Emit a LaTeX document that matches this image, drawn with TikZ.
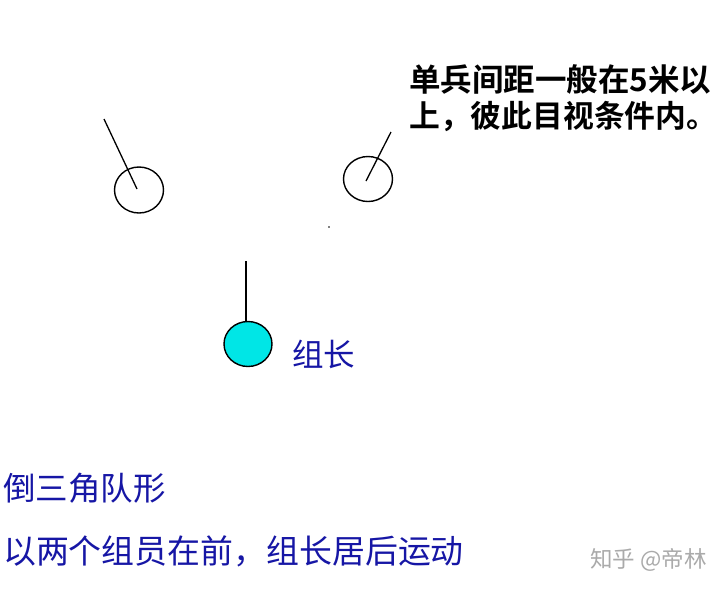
\documentclass[tikz,border=0pt]{standalone}
\usepackage{fontspec}
\newfontfamily\cjk{Noto Sans CJK SC}
\newfontfamily\cjkb{Noto Sans CJK SC}[BoldFont={* Bold}]
\definecolor{txtblue}{RGB}{22,22,165}
\definecolor{ldrcyan}{RGB}{0,230,230}
\definecolor{wm}{RGB}{170,170,170}
\begin{document}
\begin{tikzpicture}[x=1pt,y=-1pt,
  pointer/.style={draw=black,line width=1.3pt},
  bluetxt/.style={text=txtblue,font=\cjk\fontsize{31}{34}\selectfont,inner sep=0pt},
  blacktxt/.style={anchor=west,inner sep=0pt,font=\cjkb\bfseries\fontsize{31.5}{36}\selectfont},
]
\useasboundingbox (0,0) rectangle (720,590);
\fill[white] (0,0) rectangle (720,590);
% members
\draw[line width=1.4pt] (139,190) ellipse (24.5 and 23);
\coordinate (lc) at (137,189);
\coordinate (lt) at (104,119);
\draw[pointer] (lt) -- (lc);
\draw[line width=1.4pt] (368,179) ellipse (24.5 and 22.5);
\coordinate (rc) at (366,181);
\coordinate (rt) at (391,132);
\draw[pointer] (rt) -- (rc);
\fill[black] (329,227) circle (0.8);
% leader
\draw[line width=1.4pt, fill=ldrcyan] (248,344) ellipse (24 and 22.5);
\coordinate (lead) at (246,322);
\coordinate (leadt) at (246,261);
\draw[pointer] (leadt) -- (lead);
\node[bluetxt,anchor=west,font=\cjk\fontsize{31.5}{34}\selectfont] (zz) at (292,354) {组长};
% texts
\node[blacktxt] (t1) at (409,80) {单兵间距一般在5米以};
\node[blacktxt,font=\cjkb\bfseries\fontsize{30.8}{36}\selectfont] (t2) at (409,116) {上，彼此目视条件内。};
\node[bluetxt,anchor=west,font=\cjk\fontsize{32.5}{34}\selectfont] (b1) at (3,488) {倒三角队形};
\node[bluetxt,anchor=west,font=\cjk\fontsize{32.9}{34}\selectfont] (b2) at (3,551) {以两个组员在前，组长居后运动};
\node[anchor=west,inner sep=0pt,text=wm,font=\cjk\fontsize{22.5}{24}\selectfont] (w) at (590,560) {知乎 @帝林};
\end{tikzpicture}
\end{document}
